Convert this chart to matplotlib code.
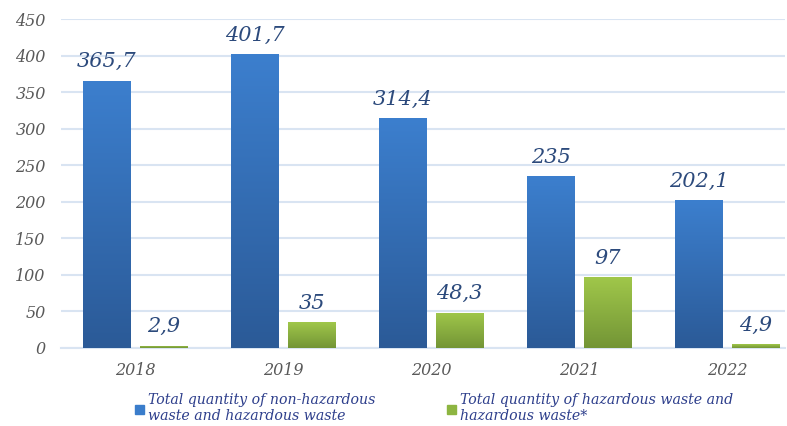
import matplotlib
matplotlib.use("Agg")
import matplotlib.pyplot as plt
import numpy as np
from matplotlib.colors import LinearSegmentedColormap

years = ["2018", "2019", "2020", "2021", "2022"]
total_waste = [365.7, 401.7, 314.4, 235, 202.1]
hazardous_waste = [2.9, 35, 48.3, 97, 4.9]
labels_total = ["365,7", "401,7", "314,4", "235", "202,1"]
labels_haz = ["2,9", "35", "48,3", "97", "4,9"]
yticks = [0, 50, 100, 150, 200, 250, 300, 350, 400, 450]
series_names = ["Total quantity of non-hazardous\nwaste and hazardous waste",
                "Total quantity of hazardous waste and\nhazardous waste*"]

FONT = "DejaVu Serif"
fig = plt.figure(figsize=(7.87, 4.26), dpi=100)
ax = fig.add_axes([61/787, 1-348/426, (785-61)/787, (348-19)/426])

x = np.arange(len(years))
w = 0.318
off = 0.193

blue_cmap = LinearSegmentedColormap.from_list("b", ["#2B5A97", "#3C7FCE"])
green_cmap = LinearSegmentedColormap.from_list("g", ["#739536", "#A0C74A"])

def grad_bars(xs, vals, cmap, color):
    bars = ax.bar(xs, vals, width=w, color=color, zorder=3, linewidth=0)
    for b in bars:
        x0, y0 = b.get_x(), b.get_y()
        x1, y1 = x0 + b.get_width(), y0 + b.get_height()
        grad = np.linspace(0, 1, 256).reshape(-1, 1)
        im = ax.imshow(grad, extent=[x0, x1, y0, max(y1, 0.01)], origin="lower",
                       cmap=cmap, aspect="auto", zorder=4)
        im.set_clip_path(b)
    return bars

grad_bars(x - off, total_waste, blue_cmap, "#3A7DCB")
grad_bars(x + off, hazardous_waste, green_cmap, "#8DB541")

for xi, v, lab in zip(x - off, total_waste, labels_total):
    ax.text(xi, v + 13, lab, ha="center", va="bottom", fontsize=15,
            family=FONT, style="italic", color="#2C4A7C", zorder=5)
for xi, v, lab in zip(x + off, hazardous_waste, labels_haz):
    ax.text(xi, v + 13, lab, ha="center", va="bottom", fontsize=15,
            family=FONT, style="italic", color="#2C4A7C", zorder=5)

ax.set_xlim(-0.5, 4.39)
ax.set_ylim(0, 450)
ax.set_yticks(yticks)
ax.set_yticklabels([str(t) for t in yticks], family=FONT, style="italic",
                   fontsize=11.5, color="#595959")
ax.set_xticks(x)
ax.set_xticklabels(years, family=FONT, style="italic", fontsize=11.5, color="#595959")
ax.tick_params(axis="x", length=0, pad=10)
ax.tick_params(axis="y", length=0, pad=11)
ax.grid(axis="y", color="#D9E4F2", linewidth=1.5, zorder=0)
for s in ["top", "right", "left"]:
    ax.spines[s].set_visible(False)
ax.spines["bottom"].set_color("#D9E4F2")
ax.spines["bottom"].set_linewidth(1.5)

# legend
for sx, tx, name, col in [(135, 148, series_names[0], "#3A7DCB"), (447, 460, series_names[1], "#8DB541")]:
    fig.patches.append(plt.Rectangle((sx/787, 1-414/426), 9/787, 9/426,
                                     transform=fig.transFigure, color=col))
    fig.text(tx/787, 1-408/426, name, family=FONT, style="italic", fontsize=10.2,
             color="#2E3F8C", va="center", ha="left", linespacing=1.1)

fig.savefig("out.png", dpi=100)
